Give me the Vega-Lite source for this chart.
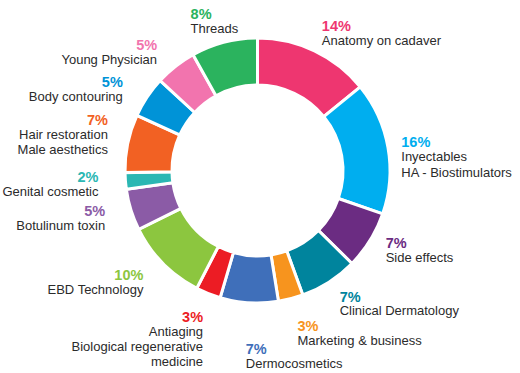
{
  "$schema": "https://vega.github.io/schema/vega-lite/v6.json",
  "width": 515,
  "height": 341,
  "autosize": {"type": "none"},
  "padding": {"left": 0, "right": 5, "top": 0, "bottom": 32},
  "background": "white",
  "config": {"view": {"stroke": null}, "text": {"font": "Liberation Sans"}},
  "data": {
    "values": [
      {"rank": 1, "cat": "Anatomy on cadaver", "name": "Anatomy on cadaver", "value": 14, "pct": "14%"},
      {"rank": 2, "cat": "Inyectables", "name": "Inyectables\nHA - Biostimulators", "value": 16, "pct": "16%"},
      {"rank": 3, "cat": "Side effects", "name": "Side effects", "value": 7, "pct": "7%"},
      {"rank": 4, "cat": "Clinical Dermatology", "name": "Clinical Dermatology", "value": 7, "pct": "7%"},
      {"rank": 5, "cat": "Marketing & business", "name": "Marketing & business", "value": 3, "pct": "3%"},
      {"rank": 6, "cat": "Dermocosmetics", "name": "Dermocosmetics", "value": 7, "pct": "7%"},
      {"rank": 7, "cat": "Antiaging", "name": "Antiaging\nBiological regenerative\nmedicine", "value": 3, "pct": "3%"},
      {"rank": 8, "cat": "EBD Technology", "name": "EBD Technology", "value": 10, "pct": "10%"},
      {"rank": 9, "cat": "Botulinum toxin", "name": "Botulinum toxin", "value": 5, "pct": "5%"},
      {"rank": 10, "cat": "Genital cosmetic", "name": "Genital cosmetic", "value": 2, "pct": "2%"},
      {"rank": 11, "cat": "Hair restoration", "name": "Hair restoration\nMale aesthetics", "value": 7, "pct": "7%"},
      {"rank": 12, "cat": "Body contouring", "name": "Body contouring", "value": 5, "pct": "5%"},
      {"rank": 13, "cat": "Young Physician", "name": "Young Physician", "value": 5, "pct": "5%"},
      {"rank": 14, "cat": "Threads", "name": "Threads", "value": 8, "pct": "8%"}
    ]
  },
  "encoding": {
    "theta": {"field": "value", "type": "quantitative", "stack": true},
    "order": {"field": "rank", "type": "quantitative"}
  },
  "layer": [
    {
      "mark": {"type": "arc", "outerRadius": 132.5, "innerRadius": 85.5, "stroke": "white", "strokeWidth": 3},
      "encoding": {
        "color": {
          "field": "cat", "type": "nominal", "legend": null,
          "scale": {
            "domain": ["Anatomy on cadaver", "Inyectables", "Side effects", "Clinical Dermatology", "Marketing & business", "Dermocosmetics", "Antiaging", "EBD Technology", "Botulinum toxin", "Genital cosmetic", "Hair restoration", "Body contouring", "Young Physician", "Threads"],
            "range": ["#ee3670", "#00aeef", "#6b2c82", "#00849d", "#f7941e", "#3f6fba", "#ec1c24", "#8cc63f", "#8b5ba6", "#2bb7b3", "#f26123", "#0093d7", "#f274ae", "#2bb35e"]
          }
        }
      }
    },
    {
      "mark": {"type": "text", "radius": 152, "align": "left", "baseline": "alphabetic", "dx": -1, "dy": -2.5, "fontSize": 14.5, "fontWeight": "bold"},
      "encoding": {"color": {"field": "cat", "type": "nominal", "legend": null}, "text": {"condition": {"test": "datum.rank == 1 || datum.rank == 3", "field": "pct"}, "value": ""}}
    },
    {
      "mark": {"type": "text", "radius": 152, "align": "left", "baseline": "alphabetic", "dx": -1, "dy": 11.5, "fontSize": 13, "lineBreak": "\n", "lineHeight": 15, "fill": "#2b2b2b"},
      "encoding": {"detail": {"field": "cat"}, "text": {"condition": {"test": "datum.rank == 1 || datum.rank == 3", "field": "name"}, "value": ""}}
    },
    {
      "mark": {"type": "text", "radius": 146, "align": "left", "baseline": "alphabetic", "dy": 2, "fontSize": 14.5, "fontWeight": "bold"},
      "encoding": {"color": {"field": "cat", "type": "nominal", "legend": null}, "text": {"condition": {"test": "datum.rank == 2", "field": "pct"}, "value": ""}}
    },
    {
      "mark": {"type": "text", "radius": 146, "align": "left", "baseline": "alphabetic", "dy": 16, "fontSize": 13, "lineBreak": "\n", "lineHeight": 15.5, "fill": "#2b2b2b"},
      "encoding": {"detail": {"field": "cat"}, "text": {"condition": {"test": "datum.rank == 2", "field": "name"}, "value": ""}}
    },
    {
      "mark": {"type": "text", "radius": 152, "align": "left", "baseline": "alphabetic", "dy": 3.5, "fontSize": 14.5, "fontWeight": "bold"},
      "encoding": {"color": {"field": "cat", "type": "nominal", "legend": null}, "text": {"condition": {"test": "datum.rank == 4", "field": "pct"}, "value": ""}}
    },
    {
      "mark": {"type": "text", "radius": 152, "align": "left", "baseline": "alphabetic", "dy": 17, "fontSize": 13, "lineBreak": "\n", "lineHeight": 15, "fill": "#2b2b2b"},
      "encoding": {"detail": {"field": "cat"}, "text": {"condition": {"test": "datum.rank == 4", "field": "name"}, "value": ""}}
    },
    {
      "mark": {"type": "text", "radius": 167, "align": "left", "baseline": "alphabetic", "dx": -2, "dy": -0.7, "fontSize": 14.5, "fontWeight": "bold"},
      "encoding": {"color": {"field": "cat", "type": "nominal", "legend": null}, "text": {"condition": {"test": "datum.rank == 5", "field": "pct"}, "value": ""}}
    },
    {
      "mark": {"type": "text", "radius": 167, "align": "left", "baseline": "alphabetic", "dx": -2, "dy": 13, "fontSize": 13, "lineBreak": "\n", "lineHeight": 15, "fill": "#2b2b2b"},
      "encoding": {"detail": {"field": "cat"}, "text": {"condition": {"test": "datum.rank == 5", "field": "name"}, "value": ""}}
    },
    {
      "mark": {"type": "text", "radius": 185, "align": "left", "baseline": "alphabetic", "dy": -1.5, "fontSize": 14.5, "fontWeight": "bold"},
      "encoding": {"color": {"field": "cat", "type": "nominal", "legend": null}, "text": {"condition": {"test": "datum.rank == 6", "field": "pct"}, "value": ""}}
    },
    {
      "mark": {"type": "text", "radius": 185, "align": "left", "baseline": "alphabetic", "dy": 13, "fontSize": 13, "lineBreak": "\n", "lineHeight": 15, "fill": "#2b2b2b"},
      "encoding": {"detail": {"field": "cat"}, "text": {"condition": {"test": "datum.rank == 6", "field": "name"}, "value": ""}}
    },
    {
      "mark": {"type": "text", "radius": 160, "align": "right", "baseline": "alphabetic", "dx": 5, "dy": 2.8, "fontSize": 14.5, "fontWeight": "bold"},
      "encoding": {"color": {"field": "cat", "type": "nominal", "legend": null}, "text": {"condition": {"test": "datum.rank == 7", "field": "pct"}, "value": ""}}
    },
    {
      "mark": {"type": "text", "radius": 160, "align": "right", "baseline": "alphabetic", "dx": 5, "dy": 16.8, "fontSize": 13, "lineBreak": "\n", "lineHeight": 15, "fill": "#2b2b2b"},
      "encoding": {"detail": {"field": "cat"}, "text": {"condition": {"test": "datum.rank == 7", "field": "name"}, "value": ""}}
    },
    {
      "mark": {"type": "text", "radius": 158, "align": "right", "baseline": "alphabetic", "dx": -1.5, "dy": -1.5, "fontSize": 14.5, "fontWeight": "bold"},
      "encoding": {"color": {"field": "cat", "type": "nominal", "legend": null}, "text": {"condition": {"test": "datum.rank >= 8 && datum.rank <= 10", "field": "pct"}, "value": ""}}
    },
    {
      "mark": {"type": "text", "radius": 158, "align": "right", "baseline": "alphabetic", "dx": -1.5, "dy": 12.5, "fontSize": 13, "lineBreak": "\n", "lineHeight": 15, "fill": "#2b2b2b"},
      "encoding": {"detail": {"field": "cat"}, "text": {"condition": {"test": "datum.rank >= 8 && datum.rank <= 10", "field": "name"}, "value": ""}}
    },
    {
      "mark": {"type": "text", "radius": 160, "align": "right", "baseline": "alphabetic", "dx": 7, "dy": -12.6, "fontSize": 14.5, "fontWeight": "bold"},
      "encoding": {"color": {"field": "cat", "type": "nominal", "legend": null}, "text": {"condition": {"test": "datum.rank == 11", "field": "pct"}, "value": ""}}
    },
    {
      "mark": {"type": "text", "radius": 160, "align": "right", "baseline": "alphabetic", "dx": 7, "dy": 1.6, "fontSize": 13, "lineBreak": "\n", "lineHeight": 14.5, "fill": "#2b2b2b"},
      "encoding": {"detail": {"field": "cat"}, "text": {"condition": {"test": "datum.rank == 11", "field": "name"}, "value": ""}}
    },
    {
      "mark": {"type": "text", "radius": 160, "align": "right", "baseline": "alphabetic", "dx": -1.5, "dy": 5.2, "fontSize": 14.5, "fontWeight": "bold"},
      "encoding": {"color": {"field": "cat", "type": "nominal", "legend": null}, "text": {"condition": {"test": "datum.rank == 12 || datum.rank == 13", "field": "pct"}, "value": ""}}
    },
    {
      "mark": {"type": "text", "radius": 160, "align": "right", "baseline": "alphabetic", "dx": -1.5, "dy": 19.2, "fontSize": 13, "lineBreak": "\n", "lineHeight": 15, "fill": "#2b2b2b"},
      "encoding": {"detail": {"field": "cat"}, "text": {"condition": {"test": "datum.rank == 12 || datum.rank == 13", "field": "name"}, "value": ""}}
    },
    {
      "mark": {"type": "text", "radius": 155, "align": "left", "baseline": "alphabetic", "dx": -28, "dy": -1.2, "fontSize": 14.5, "fontWeight": "bold"},
      "encoding": {"color": {"field": "cat", "type": "nominal", "legend": null}, "text": {"condition": {"test": "datum.rank == 14", "field": "pct"}, "value": ""}}
    },
    {
      "mark": {"type": "text", "radius": 155, "align": "left", "baseline": "alphabetic", "dx": -28, "dy": 12.8, "fontSize": 13, "lineBreak": "\n", "lineHeight": 15, "fill": "#2b2b2b"},
      "encoding": {"detail": {"field": "cat"}, "text": {"condition": {"test": "datum.rank == 14", "field": "name"}, "value": ""}}
    }
  ]
}
